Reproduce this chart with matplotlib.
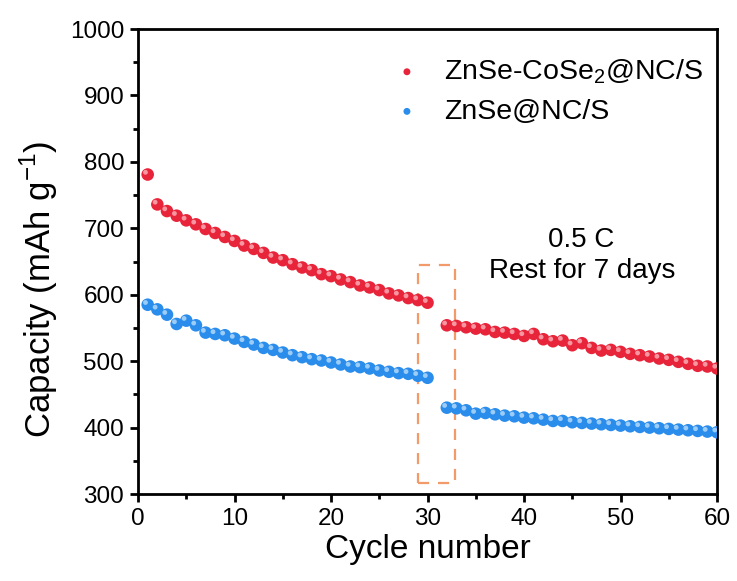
import matplotlib
matplotlib.use('Agg')
import matplotlib.pyplot as plt
import matplotlib.transforms as mtransforms
from matplotlib.patches import Rectangle
from matplotlib.ticker import MultipleLocator
import numpy as np

plt.rcParams['font.family'] = ['Liberation Sans', 'DejaVu Sans']
plt.rcParams['mathtext.fontset'] = 'custom'
plt.rcParams['mathtext.rm'] = 'Liberation Sans'

# cycles before and after the 7-day rest (cycle 31 skipped)
cyc_a = np.arange(1, 31)
cyc_b = np.arange(32, 61)

cose_a = [781, 736, 726, 719, 712, 706, 699, 693, 687, 681,
          674, 669, 663, 656, 652, 646, 641, 637, 631, 628,
          623, 619, 614, 611, 607, 602, 599, 595, 592, 588]
cose_b = [554, 553, 551, 549, 548, 544, 543, 541, 538, 541,
          533, 530, 531, 524, 527, 520, 516, 517, 514, 511,
          509, 507, 504, 502, 499, 496, 493, 492, 489]

znse_a = [585, 578, 570, 556, 561, 554, 543, 541, 539, 534,
          529, 525, 520, 517, 513, 509, 506, 503, 501, 498,
          495, 492, 491, 489, 486, 484, 482, 481, 478, 475]
znse_b = [430, 429, 426, 421, 422, 420, 418, 417, 415, 414,
          412, 410, 410, 408, 407, 406, 405, 404, 403, 402,
          401, 400, 399, 398, 397, 396, 395, 394, 393]

red = '#E8243A'
red_hi = '#F9A3AC'
blue = '#2A8CEB'
blue_hi = '#A9D4FA'

fig = plt.figure(figsize=(7.37, 5.81), dpi=100)
ax = fig.add_axes([0.1873, 0.1497, 0.7856, 0.8003])

hi_tr = mtransforms.offset_copy(ax.transData, fig=fig, x=-1.6, y=1.6, units='points')


def spheres(x, y, c, c_hi, label=None):
    ax.scatter(x, y, s=82, color=c, edgecolors='none', zorder=3, label=label)
    ax.scatter(x, y, s=12, color=c_hi, edgecolors='none', zorder=4,
               transform=hi_tr, alpha=0.9)


spheres(cyc_a, cose_a, red, red_hi, label='ZnSe-CoSe$_2$@NC/S')
spheres(cyc_b, cose_b, red, red_hi)
spheres(cyc_a, znse_a, blue, blue_hi, label='ZnSe@NC/S')
spheres(cyc_b, znse_b, blue, blue_hi)

# rest period marker
ax.add_patch(Rectangle((29, 316), 3.8, 329, fill=False, edgecolor='#F39A6B',
                       linestyle=(0, (5, 4)), linewidth=1.6, zorder=2))

ax.text(45.9, 683, '0.5 C', ha='center', va='center', fontsize=20)
ax.text(46, 636, 'Rest for 7 days', ha='center', va='center', fontsize=20)

ax.set_xlim(0, 60)
ax.set_ylim(300, 1000)
ax.xaxis.set_major_locator(MultipleLocator(10))
ax.xaxis.set_minor_locator(MultipleLocator(5))
ax.yaxis.set_major_locator(MultipleLocator(100))
ax.yaxis.set_minor_locator(MultipleLocator(50))
ax.tick_params(which='major', direction='out', length=6, width=2, labelsize=17.5, pad=4)
ax.tick_params(which='minor', direction='out', length=3.5, width=2)
for sp in ax.spines.values():
    sp.set_linewidth(2)

ax.set_xlabel('Cycle number', fontsize=24, labelpad=3)
ax.set_ylabel('Capacity (mAh g$^{-1}$)', fontsize=25)
ax.yaxis.set_label_coords(-0.135, 0.44)

leg = ax.legend(loc='upper right', bbox_to_anchor=(1.0, 0.97), frameon=False,
                fontsize=20.5, markerscale=0.55, handletextpad=0.3,
                labelspacing=0.45, borderaxespad=0.1)

fig.savefig('out.png', dpi=100)
